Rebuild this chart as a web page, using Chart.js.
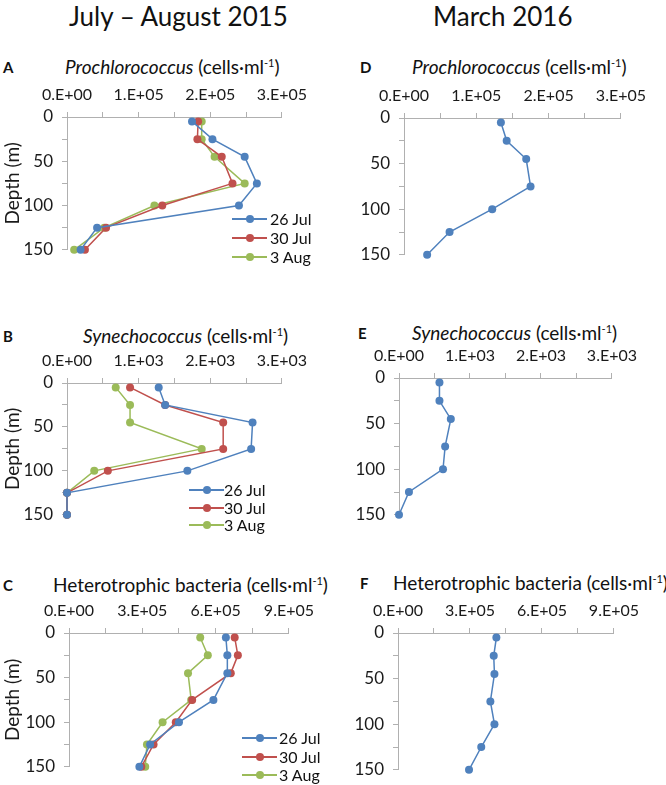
<!DOCTYPE html>
<html>
<head>
<meta charset="utf-8">
<script src="https://cdn.jsdelivr.net/npm/chart.js@4.4.1/dist/chart.umd.min.js"></script>
<style>
  body { margin: 0; background: #fff; }
  #page { position: relative; width: 666px; height: 785px; overflow: hidden; font-family: Lato, sans-serif; color: #111; }
  canvas { position: absolute; }
  .head { position: absolute; font-size: 26px; line-height: 30px; white-space: nowrap; }
  .ttl { position: absolute; font-size: 19px; line-height: 20px; white-space: nowrap; }
  .ttl sup { font-size: 11px; line-height: 0; }
  .let { position: absolute; font-size: 15px; line-height: 20px; font-weight: bold; }
  .leg { position: absolute; height: 20px; font-size: 16px; line-height: 20px; white-space: nowrap; }
  .leg .ln { position: absolute; top: 9px; height: 2px; }
  .leg .dot { position: absolute; top: 6px; width: 8px; height: 8px; border-radius: 50%; }
  .leg .tx { position: absolute; top: 0; }
</style>
</head>
<body>
<div id="page">
  <div class="head" style="left:69px; top:1px;">July – August 2015</div>
  <div class="head" style="left:433px; top:1px;">March 2016</div>

  <div class="let" style="left:3px; top:57px;">A</div>
  <div class="ttl" style="left:65px; top:57px;"><i>Prochlorococcus</i> (cells·ml<sup>-1</sup>)</div>
  <div class="let" style="left:360px; top:57px;">D</div>
  <div class="ttl" style="left:412px; top:57px;"><i>Prochlorococcus</i> (cells·ml<sup>-1</sup>)</div>

  <div class="let" style="left:3px; top:326px;">B</div>
  <div class="ttl" style="left:83px; top:326px;"><i>Synechococcus</i> (cells·ml<sup>-1</sup>)</div>
  <div class="let" style="left:358px; top:323px;">E</div>
  <div class="ttl" style="left:412px; top:323px;"><i>Synechococcus</i> (cells·ml<sup>-1</sup>)</div>

  <div class="let" style="left:3px; top:575px;">C</div>
  <div class="ttl" style="left:53px; top:575px;">Heterotrophic bacteria (cells·ml<sup>-1</sup>)</div>
  <div class="let" style="left:360px; top:573px;">F</div>
  <div class="ttl" style="left:393px; top:573px;">Heterotrophic bacteria (cells·ml<sup>-1</sup>)</div>
</div>
<script>
// sampling depths (m)
const depths = [5, 25, 45, 75, 100, 125, 150];
const seriesNames = ['26 Jul', '30 Jul', '3 Aug'];
const seriesColors = ['#4F81BD', '#C0504D', '#9BBB59'];

// Prochlorococcus (cells/ml)
const proJul26 = [174500, 203000, 248000, 265000, 240000, 42000, 19000];
const proJul30 = [183000, 182000, 216000, 231000, 133000, 54500, 25000];
const proAug3 = [188000, 188000, 206000, 248000, 122000, 52000, 10000];
const proMar = [134000, 142000, 169000, 175000, 122000, 63000, 32000];

// Synechococcus (cells/ml)
const synJul26 = [1280, 1370, 2590, 2570, 1680, 0, 0];
const synJul30 = [880, 1370, 2180, 2180, 570, 0, 0];
const synAug3 = [680, 880, 880, 1880, 380, 0, 0];
const synMar = [570, 570, 730, 650, 620, 140, 0];

// Heterotrophic bacteria (cells/ml)
const hetJul26 = [642000, 648000, 648000, 591000, 450000, 332000, 288000];
const hetJul30 = [678000, 691000, 662000, 504000, 437000, 346000, 296000];
const hetAug3 = [537000, 568000, 487000, 500000, 383000, 319000, 312000];
const hetMar = [410000, 399000, 402000, 385000, 402000, 347000, 296000];

const page = document.getElementById('page');
const axisGrey = '#b0b0b0';
const textCol = '#1a1a1a';

// excel style "3.E+05"
function sci(v) {
  if (v === 0) return '0.E+00';
  const e = Math.floor(Math.log10(v) + 1e-9);
  const m = Math.round(v / Math.pow(10, e));
  return m + '.E+' + String(e).padStart(2, '0');
}

function panel(p) {
  const top = p.T - 40;
  const c = document.createElement('canvas');
  c.width = p.R - p.left + 30;
  c.height = p.B - top + 12;
  c.style.left = p.left + 'px';
  c.style.top = top + 'px';
  page.appendChild(c);

  const datasets = p.series.map((vals, i) => ({
    label: p.names ? p.names[i] : 'March 2016',
    data: vals.map((v, k) => ({ x: v, y: depths[k] })),
    showLine: true,
    borderColor: seriesColors[i],
    backgroundColor: seriesColors[i],
    borderWidth: 1.5,
    pointRadius: 4,
    pointBorderWidth: 0,
    clip: false
  }));

  new Chart(c, {
    type: 'scatter',
    data: { datasets },
    options: {
      responsive: false,
      animation: false,
      layout: { padding: { left: 0, top: 0, right: 30, bottom: 12 } },
      plugins: { legend: { display: false }, tooltip: { enabled: false } },
      scales: {
        x: {
          type: 'linear',
          position: 'top',
          min: 0,
          max: p.xMax,
          afterFit: s => { s.height = 40; },
          ticks: {
            stepSize: p.xMax / 6,
            autoSkip: false,
            maxRotation: 0,
            padding: 8,
            color: textCol,
            font: { family: 'Lato', size: 16 },
            callback: v => {
              const r = v / (p.xMax / 3);
              return Math.abs(r - Math.round(r)) < 1e-6 ? sci(v) : '';
            }
          },
          grid: { drawOnChartArea: false, drawTicks: true, tickLength: 5, color: axisGrey },
          border: { color: axisGrey }
        },
        y: {
          type: 'linear',
          reverse: true,
          min: 0,
          max: 150,
          afterFit: s => { s.width = p.L - p.left; },
          ticks: {
            stepSize: 25,
            autoSkip: false,
            padding: 9,
            color: textCol,
            font: { family: 'Lato', size: 17 },
            callback: v => (v % 50 === 0 ? v : '')
          },
          grid: { drawOnChartArea: false, drawTicks: true, tickLength: 5, color: axisGrey },
          border: { color: axisGrey },
          title: {
            display: p.yTitle,
            text: 'Depth (m)',
            color: textCol,
            font: { family: 'Lato', size: 19 },
            padding: { top: 1, bottom: 0 }
          }
        }
      }
    }
  });
}

function legend(x, textX, ys) {
  seriesNames.forEach((name, i) => {
    const d = document.createElement('div');
    d.className = 'leg';
    d.style.left = x + 'px';
    d.style.top = (ys[i] - 10) + 'px';
    d.innerHTML =
      '<span class="ln" style="left:0;width:35px;background:' + seriesColors[i] + '"></span>' +
      '<span class="dot" style="left:13.5px;background:' + seriesColors[i] + '"></span>' +
      '<span class="tx" style="left:' + (textX - x) + 'px">' + name + '</span>';
    page.appendChild(d);
  });
}

panel({ left: 0, L: 67, R: 285, T: 117, B: 257, xMax: 3e5, yTitle: true, series: [proJul26, proJul30, proAug3], names: seriesNames });
panel({ left: 0, L: 67, R: 285, T: 383, B: 522, xMax: 3e3, yTitle: true, series: [synJul26, synJul30, synAug3], names: seriesNames });
panel({ left: 0, L: 69, R: 292, T: 633, B: 774, xMax: 9e5, yTitle: true, series: [hetJul26, hetJul30, hetAug3], names: seriesNames });
panel({ left: 330, L: 404, R: 624, T: 118, B: 262, xMax: 3e5, yTitle: false, series: [proMar] });
panel({ left: 330, L: 399, R: 615, T: 378, B: 522, xMax: 3e3, yTitle: false, series: [synMar] });
panel({ left: 330, L: 398, R: 617, T: 633, B: 777, xMax: 9e5, yTitle: false, series: [hetMar] });

legend(232, 270, [219, 238, 257]);
legend(189, 224, [490, 508, 525]);
legend(242, 279, [738, 757, 775]);
</script>
</body>
</html>
